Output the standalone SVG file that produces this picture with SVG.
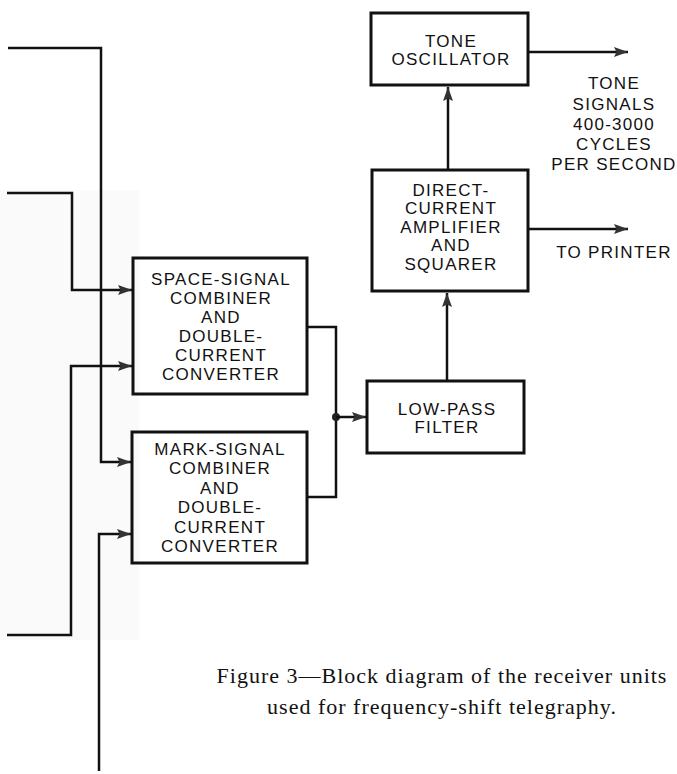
<svg xmlns="http://www.w3.org/2000/svg" width="677" height="774" viewBox="0 0 677 774">
<style>
.box{fill:none;stroke:#111;stroke-width:3}
.ln{fill:none;stroke:#111;stroke-width:2.5;stroke-linejoin:miter}
.lbl{font-family:"Liberation Sans",Arial,sans-serif;font-size:17px;letter-spacing:1.3px;fill:#111;text-anchor:middle}
.cap{font-family:"Liberation Serif","Times New Roman",serif;font-size:22px;letter-spacing:1px;fill:#111;text-anchor:middle}
</style>
<defs>
<marker id="ah" markerWidth="16" markerHeight="12" refX="14" refY="5.5" orient="auto" markerUnits="userSpaceOnUse">
<path d="M0,0.5 L14,5.5 L0,10.5 L2.5,5.5 Z" fill="#333"/>
</marker>
</defs>
<rect width="677" height="774" fill="#fff"/>
<rect x="0" y="190" width="139" height="450" fill="#fafafa"/>

<g id="connectors">
<polyline class="ln" points="8,48 101,48 101,462 131,462" marker-end="url(#ah)"/>
<polyline class="ln" points="7,193 72,193 72,290 132,290" marker-end="url(#ah)"/>
<polyline class="ln" points="7,635 71,635 71,366 132,366" marker-end="url(#ah)"/>
<polyline class="ln" points="99,771 99,534 131,534" marker-end="url(#ah)"/>
<polyline class="ln" points="307,327 336,327 336,497 307,497"/>
<circle cx="336" cy="417" r="4" fill="#222"/>
<line class="ln" x1="336" y1="417" x2="366" y2="417" marker-end="url(#ah)"/>
<line class="ln" x1="447" y1="381" x2="447" y2="293" marker-end="url(#ah)"/>
<line class="ln" x1="448" y1="170" x2="448" y2="87" marker-end="url(#ah)"/>
<line class="ln" x1="528" y1="52" x2="628" y2="52" marker-end="url(#ah)"/>
<line class="ln" x1="528" y1="229" x2="628" y2="229" marker-end="url(#ah)"/>
</g>

<g id="tone-oscillator">
<rect class="box" x="371" y="13" width="157" height="72"/>
<text class="lbl" x="451" y="47">TONE</text>
<text class="lbl" x="451" y="65">OSCILLATOR</text>
</g>

<g id="dc-amplifier">
<rect class="box" x="372" y="170" width="156" height="121"/>
<text class="lbl" x="451" y="196">DIRECT-</text>
<text class="lbl" x="451" y="214">CURRENT</text>
<text class="lbl" x="451" y="233">AMPLIFIER</text>
<text class="lbl" x="451" y="251">AND</text>
<text class="lbl" x="451" y="270">SQUARER</text>
</g>

<g id="low-pass-filter">
<rect class="box" x="367" y="381" width="157" height="72"/>
<text class="lbl" x="447" y="415">LOW-PASS</text>
<text class="lbl" x="447" y="433">FILTER</text>
</g>

<g id="space-combiner">
<rect class="box" x="133" y="258" width="174" height="136"/>
<text class="lbl" x="221" y="285">SPACE-SIGNAL</text>
<text class="lbl" x="221" y="304">COMBINER</text>
<text class="lbl" x="221" y="323">AND</text>
<text class="lbl" x="221" y="342">DOUBLE-</text>
<text class="lbl" x="221" y="361">CURRENT</text>
<text class="lbl" x="221" y="380">CONVERTER</text>
</g>

<g id="mark-combiner">
<rect class="box" x="132" y="432" width="175" height="131"/>
<text class="lbl" x="220" y="455">MARK-SIGNAL</text>
<text class="lbl" x="220" y="474">COMBINER</text>
<text class="lbl" x="220" y="494">AND</text>
<text class="lbl" x="220" y="513">DOUBLE-</text>
<text class="lbl" x="220" y="533">CURRENT</text>
<text class="lbl" x="220" y="552">CONVERTER</text>
</g>

<g id="tone-signals-label">
<text class="lbl" x="614" y="89">TONE</text>
<text class="lbl" x="614" y="110">SIGNALS</text>
<text class="lbl" x="614" y="130">400-3000</text>
<text class="lbl" x="614" y="150">CYCLES</text>
<text class="lbl" x="614" y="170">PER SECOND</text>
</g>

<g id="printer-label">
<text class="lbl" x="614" y="258">TO PRINTER</text>
</g>

<g id="caption">
<text class="cap" x="442" y="683">Figure 3—Block diagram of the receiver units</text>
<text class="cap" x="442" y="714">used for frequency-shift telegraphy.</text>
</g>
</svg>
